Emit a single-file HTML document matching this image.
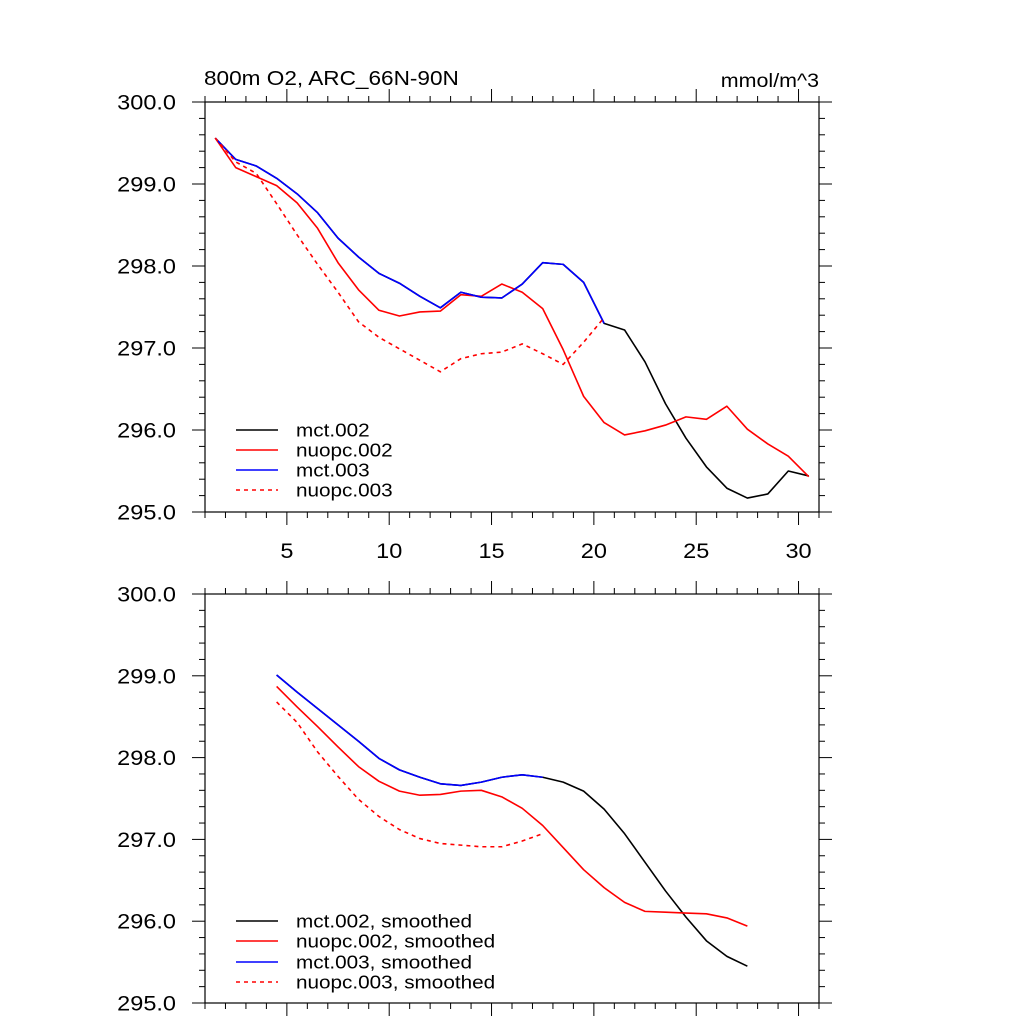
<!DOCTYPE html>
<html><head><meta charset="utf-8"><style>
html,body{margin:0;padding:0;background:#fff;}
svg{display:block;font-family:"Liberation Sans",sans-serif;}
</style></head><body>
<svg id="chart" width="1024" height="1024" viewBox="0 0 1024 1024" xmlns="http://www.w3.org/2000/svg">
<rect x="0" y="0" width="1024" height="1024" fill="#fff"/>
<text transform="translate(204,85) scale(1.13,1)" font-size="20">800m O2, ARC_66N-90N</text>
<text transform="translate(819,87) scale(1.1,1)" font-size="19.5" text-anchor="end">mmol/m^3</text>
<g id="top"></g>
<g id="bot"></g>
</svg>
<script>
const xTopRaw = [1.5,2.5,3.5,4.5,5.5,6.5,7.5,8.5,9.5,10.5,11.5,12.5,13.5,14.5,15.5,16.5,17.5,18.5,19.5,20.5,21.5,22.5,23.5,24.5,25.5,26.5,27.5,28.5,29.5,30.5];
const mct002 = [299.56,299.30,299.22,299.07,298.88,298.65,298.34,298.11,297.91,297.79,297.63,297.49,297.68,297.62,297.61,297.78,298.04,298.02,297.80,297.30,297.22,296.83,296.32,295.90,295.55,295.29,295.17,295.22,295.50,295.44];
const nuopc002 = [299.56,299.20,299.09,298.98,298.77,298.46,298.04,297.71,297.46,297.39,297.44,297.45,297.65,297.63,297.78,297.68,297.48,296.98,296.41,296.09,295.94,295.99,296.06,296.16,296.13,296.29,296.01,295.83,295.68,295.43];
const mct003 = [299.56,299.30,299.22,299.07,298.88,298.65,298.34,298.11,297.91,297.79,297.63,297.49,297.68,297.62,297.61,297.78,298.04,298.02,297.80,297.30];
const nuopc003 = [299.56,299.27,299.13,298.76,298.38,298.02,297.68,297.32,297.13,296.99,296.85,296.71,296.87,296.93,296.95,297.05,296.93,296.80,297.07,297.37];
const xSmooth = [4.5,5.5,6.5,7.5,8.5,9.5,10.5,11.5,12.5,13.5,14.5,15.5,16.5,17.5,18.5,19.5,20.5,21.5,22.5,23.5,24.5,25.5,26.5,27.5];
const mct002s = [299.01,298.80,298.60,298.40,298.20,297.99,297.85,297.76,297.68,297.66,297.70,297.76,297.79,297.76,297.70,297.59,297.37,297.07,296.72,296.37,296.05,295.76,295.57,295.45];
const nuopc002s = [298.87,298.62,298.38,298.13,297.89,297.71,297.59,297.54,297.55,297.59,297.60,297.52,297.38,297.17,296.90,296.63,296.41,296.23,296.12,296.11,296.10,296.09,296.04,295.94];
const mct003s = [299.01,298.80,298.60,298.40,298.20,297.99,297.85,297.76,297.68,297.66,297.70,297.76,297.79,297.76];
const nuopc003s = [298.68,298.43,298.07,297.77,297.49,297.28,297.12,297.01,296.95,296.93,296.91,296.91,296.98,297.07];
const yTicks = ["295.0","296.0","297.0","298.0","299.0","300.0"];
const xTicks = ["5","10","15","20","25","30"];
const legendTop = ["mct.002","nuopc.002","mct.003","nuopc.003"];
const legendBot = ["mct.002, smoothed","nuopc.002, smoothed","mct.003, smoothed","nuopc.003, smoothed"];

const NS="http://www.w3.org/2000/svg";
const L=205,R=819,XMIN=1,XMAX=31,YMIN=295,YMAX=300;
function sx(v){return L+(v-XMIN)/(XMAX-XMIN)*(R-L);}
function mk(tag,attrs,parent){const e=document.createElementNS(NS,tag);for(const k in attrs)e.setAttribute(k,attrs[k]);parent.appendChild(e);return e;}

function panel(g,T,B,showXLabels,series,legend,legY){
  const sy=v=>B-(v-YMIN)/(YMAX-YMIN)*(B-T);
  const frame=mk('rect',{x:L,y:T,width:R-L,height:B-T,fill:'none',stroke:'#000','stroke-width':1.2},g);
  
  
  for(let v=XMIN;v<=XMAX;v++){
    const major=v%5===0, len=major?13:6, x=sx(v);
    const t1=mk('line',{x1:x,x2:x,y1:B,y2:B+len,stroke:'#000','stroke-width':1},g);
    
    
    const t2=mk('line',{x1:x,x2:x,y1:T,y2:T-len,stroke:'#000','stroke-width':1},g);
    
    
  }
  if(showXLabels){
    xTicks.forEach(s=>{
      const t=mk('text',{transform:'translate('+sx(+s)+',558) scale(1.12,1)','font-size':21,'text-anchor':'middle'},g);t.textContent=s;
      
      
    });
  }
  for(let i=0;i<=25;i++){
    const v=YMIN+i*0.2, major=i%5===0, len=major?13:6, y=sy(v);
    const t1=mk('line',{x1:L,x2:L-len,y1:y,y2:y,stroke:'#000','stroke-width':1},g);
    
    
    const t2=mk('line',{x1:R,x2:R+len,y1:y,y2:y,stroke:'#000','stroke-width':1},g);
    
    
  }
  yTicks.forEach(s=>{
    const t=mk('text',{transform:'translate(176,'+(sy(+s)+7.5)+') scale(1.12,1)','font-size':21,'text-anchor':'end'},g);t.textContent=s;
    
    
  });
  series.forEach(([xs,ys,col,dash,name])=>{
    const p=mk('polyline',{points:ys.map((v,i)=>sx(xs[i])+','+sy(v)).join(' '),fill:'none',stroke:col,'stroke-width':1.6,'stroke-dasharray':dash?'4,4':'none','stroke-linejoin':'round'},g);
    
    
  });
  const styles=[['#000',0],['#f00',0],['#00f',0],['#f00',1]];
  legend.forEach((s,i)=>{
    const y=legY[i];
    const ln=mk('line',{x1:236,x2:278,y1:y,y2:y,stroke:styles[i][0],'stroke-width':1.6,'stroke-dasharray':styles[i][1]?'4,4':'none'},g);
    
    
    const t=mk('text',{transform:'translate(296,'+(y+6.5)+') scale(1.12,1)','font-size':18.5},g);t.textContent=s;
    
    
  });
}
panel(document.getElementById('top'),102,512,true,[
  [xTopRaw,mct002,'#000',0,'line-mct002'],
  [xTopRaw,nuopc002,'#f00',0,'line-nuopc002'],
  [xTopRaw,mct003,'#00f',0,'line-mct003'],
  [xTopRaw,nuopc003,'#f00',1,'line-nuopc003']
],legendTop,[430,450,470,490]);
panel(document.getElementById('bot'),594,1003,false,[
  [xSmooth,mct002s,'#000',0,'line-mct002-smoothed'],
  [xSmooth,nuopc002s,'#f00',0,'line-nuopc002-smoothed'],
  [xSmooth,mct003s,'#00f',0,'line-mct003-smoothed'],
  [xSmooth,nuopc003s,'#f00',1,'line-nuopc003-smoothed']
],legendBot,[921,941,962,982]);
</script>
</body></html>
